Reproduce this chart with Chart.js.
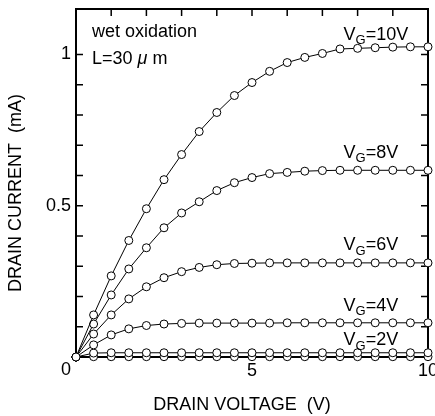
<!DOCTYPE html>
<html>
<head>
<meta charset="utf-8">
<script src="https://cdn.jsdelivr.net/npm/chart.js@4.4.0/dist/chart.umd.min.js"></script>
<style>
  body { margin: 0; background: #fff; }
</style>
</head>
<body>
<canvas id="ivChart" width="435" height="416"></canvas>
<script>
// drain voltage steps (V)
const drainVoltage = [0, 0.5, 1, 1.5, 2, 2.5, 3, 3.5, 4, 4.5, 5, 5.5, 6, 6.5, 7, 7.5, 8, 8.5, 9, 9.5, 10];

// drain current (mA) for each gate voltage
const idVg10 = [0, 0.139, 0.268, 0.385, 0.490, 0.586, 0.669, 0.745, 0.808, 0.864, 0.907, 0.944, 0.973, 0.990, 1.003, 1.018, 1.020, 1.022, 1.024, 1.025, 1.025];
const idVg8  = [0, 0.109, 0.205, 0.291, 0.361, 0.427, 0.476, 0.513, 0.550, 0.576, 0.593, 0.606, 0.610, 0.614, 0.616, 0.617, 0.617, 0.617, 0.617, 0.617, 0.617];
const idVg6  = [0, 0.076, 0.139, 0.192, 0.232, 0.262, 0.282, 0.296, 0.305, 0.309, 0.310, 0.311, 0.311, 0.311, 0.311, 0.311, 0.311, 0.311, 0.311, 0.311, 0.311];
const idVg4  = [0, 0.040, 0.073, 0.093, 0.104, 0.109, 0.111, 0.112, 0.112, 0.112, 0.112, 0.112, 0.113, 0.113, 0.113, 0.113, 0.113, 0.113, 0.113, 0.113, 0.113];
const idVg2  = [0, 0.013, 0.014, 0.014, 0.014, 0.014, 0.014, 0.014, 0.014, 0.014, 0.014, 0.014, 0.014, 0.014, 0.014, 0.014, 0.014, 0.014, 0.014, 0.014, 0.014];
const idVg0  = [0, 0.001, 0.001, 0.001, 0.001, 0.001, 0.001, 0.001, 0.001, 0.001, 0.001, 0.001, 0.001, 0.001, 0.001, 0.001, 0.001, 0.001, 0.001, 0.001, 0.001];

// curve labels and where they sit (data units)
const gateLabels = ['10', '8', '6', '4', '2'];
const gateLabelY = [1.065, 0.675, 0.37, 0.17, 0.055];
const gateLabelX = 7.6;

const xTickLabels = [5, 10];
const yTickLabels = [0.5, 1];

const FONT = '"Liberation Sans", Arial, sans-serif';

const series = [idVg10, idVg8, idVg6, idVg4, idVg2, idVg0];

const frame = {
  id: 'frame',
  beforeDatasetsDraw(chart) {
    const {ctx, chartArea: a, scales: {x, y}} = chart;
    ctx.save();
    ctx.strokeStyle = '#000';
    ctx.lineWidth = 2;
    ctx.strokeRect(a.left, a.top, a.right - a.left, a.bottom - a.top);
    ctx.lineWidth = 1.5;
    ctx.beginPath();
    x.ticks.forEach(t => {
      const px = x.getPixelForValue(t.value);
      ctx.moveTo(px, a.bottom); ctx.lineTo(px, a.bottom - 7);
      ctx.moveTo(px, a.top); ctx.lineTo(px, a.top + 7);
    });
    y.ticks.forEach(t => {
      if (Math.abs(t.value * 10 - Math.round(t.value * 10)) > 1e-6) return;
      const py = y.getPixelForValue(t.value);
      ctx.moveTo(a.left, py); ctx.lineTo(a.left + 7, py);
      ctx.moveTo(a.right, py); ctx.lineTo(a.right - 7, py);
    });
    ctx.stroke();
    ctx.restore();
  },
  afterDraw(chart) {
    const {ctx, chartArea: a, scales: {x, y}} = chart;
    ctx.save();
    ctx.fillStyle = '#000';
    ctx.textBaseline = 'middle';

    // shared zero at origin
    ctx.font = '18px ' + FONT;
    ctx.textAlign = 'right';
    ctx.fillText('0', x.getPixelForValue(0) - 5, y.getPixelForValue(0) + 13);

    // axis titles
    ctx.textAlign = 'center';
    ctx.fillText('DRAIN VOLTAGE  (V)', (a.left + a.right) / 2 - 10, 405);
    ctx.save();
    ctx.translate(16, (a.top + a.bottom) / 2 + 10);
    ctx.rotate(-Math.PI / 2);
    ctx.fillText('DRAIN CURRENT  (mA)', 0, 0);
    ctx.restore();

    // annotation
    ctx.textAlign = 'left';
    ctx.fillText('wet oxidation', a.left + 16, a.top + 23);
    let tx = a.left + 16;
    const ty = a.top + 50;
    ctx.fillText('L=30 ', tx, ty);
    tx += ctx.measureText('L=30 ').width;
    ctx.font = 'italic 18px ' + FONT;
    ctx.fillText('\u03bc', tx, ty);
    tx += ctx.measureText('\u03bc').width;
    ctx.font = '18px ' + FONT;
    ctx.fillText(' m', tx, ty);

    // gate voltage labels
    gateLabels.forEach((g, i) => {
      let lx = x.getPixelForValue(gateLabelX);
      const ly = y.getPixelForValue(gateLabelY[i]);
      ctx.font = '18px ' + FONT;
      ctx.fillText('V', lx, ly);
      lx += ctx.measureText('V').width;
      ctx.font = '13px ' + FONT;
      ctx.fillText('G', lx, ly + 6);
      lx += ctx.measureText('G').width;
      ctx.font = '18px ' + FONT;
      ctx.fillText('=' + g + 'V', lx, ly);
    });
    ctx.restore();
  }
};

new Chart(document.getElementById('ivChart'), {
  type: 'line',
  data: {
    datasets: series.map(s => ({
      data: drainVoltage.map((v, i) => ({x: v, y: s[i]})),
      borderColor: '#000',
      borderWidth: 1,
      pointRadius: 4,
      pointBackgroundColor: '#fff',
      pointBorderColor: '#000',
      pointBorderWidth: 1,
      tension: 0,
      clip: false
    }))
  },
  options: {
    responsive: false,
    animation: false,
    devicePixelRatio: 1,
    layout: { padding: { top: 9, right: 7, left: 0, bottom: 0 } },
    plugins: { legend: { display: false }, tooltip: { enabled: false } },
    scales: {
      x: {
        type: 'linear', min: 0, max: 10,
        grid: { display: false, drawTicks: false },
        border: { display: false },
        ticks: {
          stepSize: 1, autoSkip: false, maxRotation: 0, padding: 3,
          color: '#000', font: { size: 18, family: FONT },
          callback: v => xTickLabels.includes(v) ? String(v) : ''
        },
        afterFit: s => { s.height = 59; s.paddingLeft = 0; s.paddingRight = 0; }
      },
      y: {
        type: 'linear', min: 0, max: 1.15,
        grid: { display: false, drawTicks: false },
        border: { display: false },
        ticks: {
          stepSize: 0.1, autoSkip: false, padding: 5,
          color: '#000', font: { size: 18, family: FONT },
          callback: v => {
            const hit = yTickLabels.find(t => Math.abs(t - v) < 1e-6);
            return hit === undefined ? '' : String(hit);
          }
        },
        afterFit: s => { s.width = 76; s.paddingTop = 0; s.paddingBottom = 0; }
      }
    }
  },
  plugins: [frame]
});
</script>
</body>
</html>
